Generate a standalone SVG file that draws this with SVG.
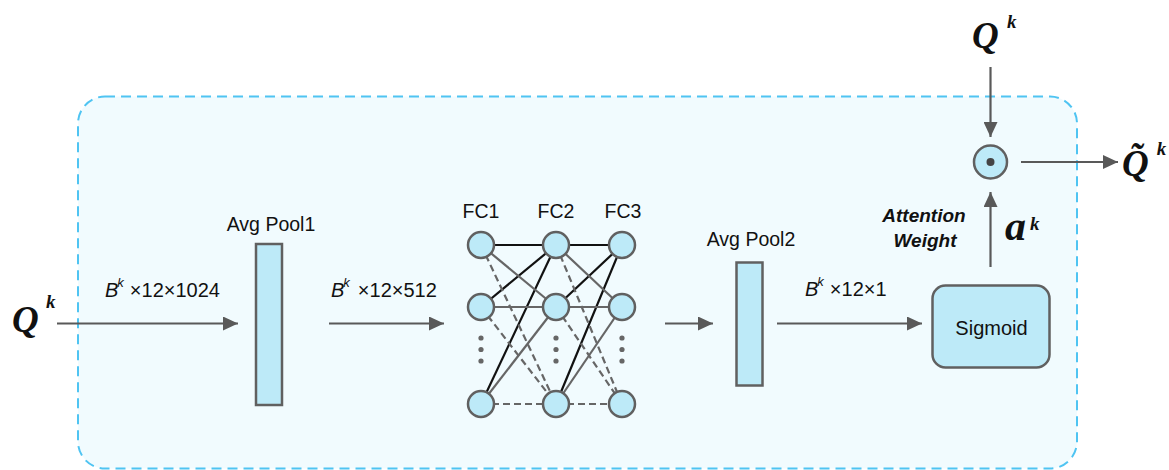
<svg xmlns="http://www.w3.org/2000/svg" width="1169" height="470" viewBox="0 0 1169 470">
<defs>
<style>
.sans{font-family:"Liberation Sans",Arial,sans-serif;fill:#111;}
.lbl{font-size:19.5px;}
.dim{font-size:20px;}
.math{font-family:"Liberation Serif","Times New Roman",serif;font-weight:bold;font-style:italic;fill:#111;}
.node{fill:#bdeaf8;stroke:#606060;stroke-width:2.5;}
.arrow{stroke:#595959;stroke-width:2.2;fill:none;marker-end:url(#ah);}
.blk{stroke:#111;stroke-width:2.2;}
.gry{stroke:#666;stroke-width:2.2;}
.dsh{stroke:#666;stroke-width:2.2;stroke-dasharray:7 4;}
.dot{fill:#666;}
</style>
<marker id="ah" markerUnits="userSpaceOnUse" markerWidth="16" markerHeight="14" refX="15" refY="7" orient="auto">
<path d="M0,0 L15,7 L0,14 Z" fill="#595959"/>
</marker>
</defs>
<rect width="1169" height="470" fill="#ffffff"/>
<g id="container">
<rect x="78" y="96.5" width="999" height="372" rx="27" ry="27" fill="#f1fbfe" stroke="#4fc4f2" stroke-width="2" stroke-dasharray="10 6"/>
</g>
<g id="connectors">
<line class="arrow" x1="57" y1="323.5" x2="238" y2="323.5"/>
<line class="arrow" x1="329" y1="323.5" x2="444" y2="323.5"/>
<line class="arrow" x1="665" y1="323.5" x2="713" y2="323.5"/>
<line class="arrow" x1="777" y1="323.5" x2="922" y2="323.5"/>
<line class="arrow" x1="990.5" y1="267" x2="990.5" y2="192"/>
<line class="arrow" x1="990.5" y1="67" x2="990.5" y2="137"/>
<line class="arrow" x1="1021" y1="162" x2="1118" y2="162"/>
</g>
<g id="fc-edges">
<line class="blk" x1="481" y1="245" x2="556" y2="245"/>
<line class="blk" x1="481" y1="307" x2="556" y2="245"/>
<line class="blk" x1="481" y1="404" x2="556" y2="245"/>
<line class="gry" x1="481" y1="245" x2="556" y2="307"/>
<line class="gry" x1="481" y1="307" x2="556" y2="307"/>
<line class="gry" x1="481" y1="404" x2="556" y2="307"/>
<line class="dsh" x1="481" y1="245" x2="556" y2="404"/>
<line class="dsh" x1="481" y1="307" x2="556" y2="404"/>
<line class="dsh" x1="481" y1="404" x2="556" y2="404"/>
<line class="blk" x1="556" y1="245" x2="622" y2="245"/>
<line class="blk" x1="556" y1="307" x2="622" y2="245"/>
<line class="blk" x1="556" y1="404" x2="622" y2="245"/>
<line class="gry" x1="556" y1="245" x2="622" y2="307"/>
<line class="gry" x1="556" y1="307" x2="622" y2="307"/>
<line class="gry" x1="556" y1="404" x2="622" y2="307"/>
<line class="dsh" x1="556" y1="245" x2="622" y2="404"/>
<line class="dsh" x1="556" y1="307" x2="622" y2="404"/>
<line class="dsh" x1="556" y1="404" x2="622" y2="404"/>
</g>
<g id="fc1">
<text class="sans lbl" x="481" y="218" text-anchor="middle">FC1</text>
<circle class="node" cx="481" cy="245" r="13"/>
<circle class="node" cx="481" cy="307" r="13"/>
<circle class="node" cx="481" cy="404" r="13"/>
<circle class="dot" cx="481" cy="338" r="2.6"/>
<circle class="dot" cx="481" cy="349.5" r="2.6"/>
<circle class="dot" cx="481" cy="361" r="2.6"/>
</g>
<g id="fc2">
<text class="sans lbl" x="556" y="218" text-anchor="middle">FC2</text>
<circle class="node" cx="556" cy="245" r="13"/>
<circle class="node" cx="556" cy="307" r="13"/>
<circle class="node" cx="556" cy="404" r="13"/>
<circle class="dot" cx="556" cy="338" r="2.6"/>
<circle class="dot" cx="556" cy="349.5" r="2.6"/>
<circle class="dot" cx="556" cy="361" r="2.6"/>
</g>
<g id="fc3">
<text class="sans lbl" x="623" y="218" text-anchor="middle">FC3</text>
<circle class="node" cx="622" cy="245" r="13"/>
<circle class="node" cx="622" cy="307" r="13"/>
<circle class="node" cx="622" cy="404" r="13"/>
<circle class="dot" cx="622" cy="338" r="2.6"/>
<circle class="dot" cx="622" cy="349.5" r="2.6"/>
<circle class="dot" cx="622" cy="361" r="2.6"/>
</g>
<g id="avgpool1">
<rect class="node" x="256" y="244" width="26" height="161"/>
<text class="sans lbl" x="271" y="231" text-anchor="middle">Avg Pool1</text>
</g>
<g id="avgpool2">
<rect class="node" x="736.5" y="262.5" width="26" height="123"/>
<text class="sans lbl" x="751" y="246" text-anchor="middle">Avg Pool2</text>
</g>
<g id="sigmoid">
<rect class="node" x="932.5" y="285.5" width="117" height="82" rx="13" ry="13"/>
<text class="sans" font-size="20" x="991.5" y="335" text-anchor="middle">Sigmoid</text>
</g>
<g id="product">
<circle class="node" cx="990.5" cy="162" r="16.5"/>
<circle cx="990.5" cy="162" r="4" fill="#444"/>
</g>
<g id="labels">
<text class="sans dim" x="105" y="297"><tspan font-style="italic">B</tspan><tspan font-size="13" font-style="italic" dx="-1" dy="-10">k</tspan><tspan dx="6" dy="10">×12×1024</tspan></text>
<text class="sans dim" x="331" y="297"><tspan font-style="italic">B</tspan><tspan font-size="13" font-style="italic" dx="-1" dy="-10">k</tspan><tspan dx="8" dy="10">×12×512</tspan></text>
<text class="sans dim" x="805" y="296"><tspan font-style="italic">B</tspan><tspan font-size="13" font-style="italic" dx="-1" dy="-10">k</tspan><tspan dx="6" dy="10">×12×1</tspan></text>
<text class="sans" font-size="19" font-weight="bold" font-style="italic" x="924" y="222" text-anchor="middle">Attention</text>
<text class="sans" font-size="19" font-weight="bold" font-style="italic" x="925" y="247" text-anchor="middle">Weight</text>
<text class="math" font-size="37" x="12" y="332">Q</text>
<text class="math" font-size="19" x="46" y="308">k</text>
<text class="math" font-size="37" x="972" y="48">Q</text>
<text class="math" font-size="19" x="1007" y="28">k</text>
<text class="math" font-size="37" x="1122" y="176">Q̃<tspan font-size="19" dx="8" dy="-21">k</tspan></text>
<text class="math" font-size="42" x="1005" y="240">a</text>
<text class="math" font-size="19" x="1030" y="230">k</text>
</g>
</svg>
